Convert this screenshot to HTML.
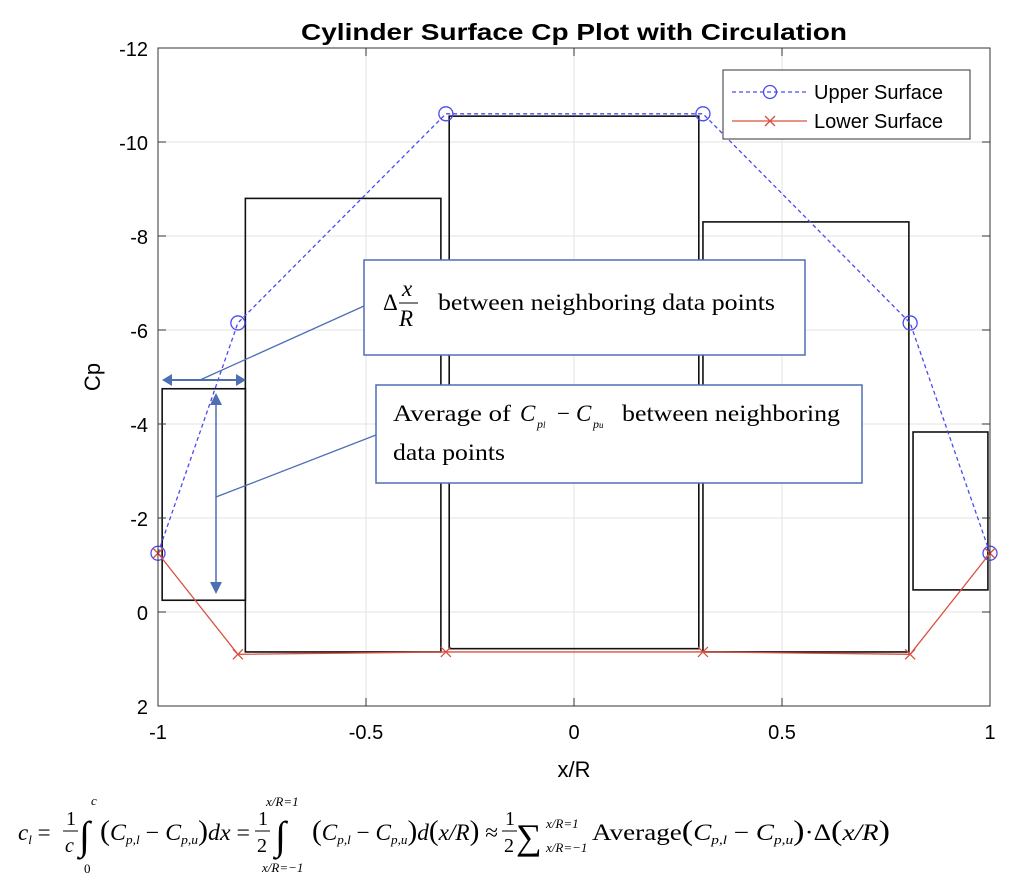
<!DOCTYPE html>
<html><head><meta charset="utf-8"><style>
body{margin:0;background:#fff;width:1024px;height:881px;overflow:hidden}
svg{display:block}
</style></head><body>
<svg id="chart" width="1024" height="881" xmlns="http://www.w3.org/2000/svg" font-family="Liberation Sans, sans-serif">
<g id="grid"></g>
<g id="rects"></g>
<g id="series"></g>
<g id="axes"></g>
<text x="574" y="40" text-anchor="middle" font-size="23" font-weight="bold" textLength="546" lengthAdjust="spacingAndGlyphs">Cylinder Surface Cp Plot with Circulation</text>
<text x="574" y="777" text-anchor="middle" font-size="22">x/R</text>
<text transform="translate(100,377) rotate(-90)" text-anchor="middle" font-size="22">Cp</text>
<g>
<rect x="723" y="70" width="247" height="69" fill="#fff" stroke="#333" stroke-width="1"/>
<line x1="732" y1="92" x2="807" y2="92" stroke="#4a4af0" stroke-width="1.3" stroke-dasharray="4,3"/>
<circle cx="770" cy="92" r="6.5" fill="none" stroke="#4a4af0" stroke-width="1.3"/>
<text x="814" y="99" font-size="20">Upper Surface</text>
<line x1="732" y1="121" x2="807" y2="121" stroke="#d95040" stroke-width="1.3"/>
<path d="M765 116 L775 126 M775 116 L765 126" stroke="#d95040" stroke-width="1.3"/>
<text x="814" y="128" font-size="20">Lower Surface</text>
</g>
<g font-family="Liberation Serif, serif" stroke-width="1.3">
<line x1="364" y1="306" x2="200" y2="380" stroke="#4f6fb5"/>
<line x1="376" y1="435" x2="216" y2="497" stroke="#4f6fb5"/>
<line x1="170" y1="380" x2="238" y2="380" stroke="#4f6fb5" stroke-width="2"/>
<path d="M162 380 L172 374 L172 386Z M246 380 L236 374 L236 386Z" fill="#4f6fb5"/>
<line x1="216" y1="403" x2="216" y2="583" stroke="#4f6fb5" stroke-width="1.5"/>
<path d="M216 393 L210 405 L222 405Z M216 594 L210 582 L222 582Z" fill="#4f6fb5"/>
<rect x="364" y="260" width="441" height="95" fill="#fff" stroke="#4f6fb5" stroke-width="1.5"/>
<text x="383" y="310" font-size="23" stroke="none">Δ</text>
<text x="402" y="296" font-size="23" font-style="italic" stroke="none">x</text>
<line x1="399" y1="303" x2="418" y2="303" stroke="#000" stroke-width="1"/>
<text x="399" y="326" font-size="23" font-style="italic" stroke="none">R</text>
<text x="438" y="310" font-size="23" stroke="none" textLength="337" lengthAdjust="spacingAndGlyphs">between neighboring data points</text>
<rect x="376" y="385" width="486" height="98" fill="#fff" stroke="#4f6fb5" stroke-width="1.5"/>
<text x="393" y="421" font-size="23" stroke="none" textLength="118" lengthAdjust="spacingAndGlyphs">Average of</text>
<text x="520" y="421" font-size="23" stroke="none" font-style="italic">C</text><text x="537" y="428" font-size="12" font-style="italic">p<tspan font-size="9">l</tspan></text>
<text x="557" y="421" font-size="23" stroke="none">−</text>
<text x="576" y="421" font-size="23" stroke="none" font-style="italic">C</text><text x="593" y="428" font-size="12" font-style="italic">p<tspan font-size="9">u</tspan></text>
<text x="622" y="421" font-size="23" stroke="none" textLength="218" lengthAdjust="spacingAndGlyphs">between neighboring</text>
<text x="393" y="460" font-size="23" stroke="none" textLength="112" lengthAdjust="spacingAndGlyphs">data points</text>
</g>
<g font-family="Liberation Serif, serif" font-size="23">
<text x="18" y="840"><tspan font-style="italic">c<tspan font-size="13" dy="4">l</tspan></tspan><tspan dy="-4"> =</tspan></text>
<text x="66" y="825" font-size="20">1</text><line x1="63" y1="831" x2="78" y2="831" stroke="#000"/><text x="65" y="852" font-size="20" font-style="italic">c</text>
<text x="79" y="849" font-size="40">∫</text><text x="91" y="805" font-size="13" font-style="italic">c</text><text x="84" y="873" font-size="13">0</text>
<text x="100" y="840" textLength="150" lengthAdjust="spacingAndGlyphs"><tspan font-size="29">(</tspan><tspan font-style="italic">C<tspan font-size="13" dy="4">p,l</tspan></tspan><tspan dy="-4"> − </tspan><tspan font-style="italic">C<tspan font-size="13" dy="4">p,u</tspan></tspan><tspan dy="-4" font-size="29">)</tspan><tspan font-style="italic">dx</tspan> =</text>
<text x="258" y="825" font-size="20">1</text><line x1="255" y1="831" x2="270" y2="831" stroke="#000"/><text x="257" y="852" font-size="20">2</text>
<text x="275" y="849" font-size="40">∫</text><text x="266" y="806" font-size="13" font-style="italic">x/R=1</text><text x="262" y="872" font-size="13" font-style="italic">x/R=−1</text>
<text x="312" y="840" textLength="186" lengthAdjust="spacingAndGlyphs"><tspan font-size="29">(</tspan><tspan font-style="italic">C<tspan font-size="13" dy="4">p,l</tspan></tspan><tspan dy="-4"> − </tspan><tspan font-style="italic">C<tspan font-size="13" dy="4">p,u</tspan></tspan><tspan dy="-4" font-size="29">)</tspan><tspan font-style="italic">d</tspan><tspan font-size="29">(</tspan><tspan font-style="italic">x/R</tspan><tspan font-size="29">)</tspan> ≈</text>
<text x="505" y="825" font-size="20">1</text><line x1="502" y1="831" x2="517" y2="831" stroke="#000"/><text x="504" y="852" font-size="20">2</text>
<text x="516" y="849" font-size="36">∑</text><text x="546" y="828" font-size="13" font-style="italic">x/R=1</text><text x="546" y="852" font-size="13" font-style="italic">x/R=−1</text>
<text x="592" y="840" textLength="298" lengthAdjust="spacingAndGlyphs">Average<tspan font-size="29">(</tspan><tspan font-style="italic">C<tspan font-size="13" dy="4">p,l</tspan></tspan><tspan dy="-4"> − </tspan><tspan font-style="italic">C<tspan font-size="13" dy="4">p,u</tspan></tspan><tspan dy="-4" font-size="29">)</tspan>·Δ<tspan font-size="29">(</tspan><tspan font-style="italic">x/R</tspan><tspan font-size="29">)</tspan></text>
</g>
</svg>
<script>
const xTicks=[-1,-0.5,0,0.5,1];
const xTickLabels=["-1","-0.5","0","0.5","1"];
const yTicks=[-12,-10,-8,-6,-4,-2,0,2];
const yTickLabels=["-12","-10","-8","-6","-4","-2","0","2"];
const xData=[-1,-0.808,-0.308,0.31,0.808,1];
const upperCp=[-1.25,-6.15,-10.6,-10.6,-6.15,-1.25];
const lowerCp=[-1.25,0.9,0.85,0.85,0.9,-1.25];
const rectX0=[-0.99,-0.79,-0.30,0.31,0.815];
const rectX1=[-0.79,-0.32,0.30,0.805,0.995];
const rectTop=[-4.75,-8.8,-10.55,-8.3,-3.83];
const rectBot=[-0.25,0.85,0.78,0.85,-0.47];
const L=158,R=990,T=48,B=706;
const sx=v=>L+(v+1)/2*(R-L);
const sy=v=>T+(v+12)/14*(B-T);
const NS='http://www.w3.org/2000/svg';
function mk(tag,attrs,parent){const e=document.createElementNS(NS,tag);for(const k in attrs)e.setAttribute(k,attrs[k]);parent.appendChild(e);return e;}
const grid=document.getElementById('grid'),axes=document.getElementById('axes'),rects=document.getElementById('rects'),series=document.getElementById('series');
mk('rect',{x:L,y:T,width:R-L,height:B-T,fill:'#fff'},grid);
xTicks.forEach((v,i)=>{
 mk('line',{x1:sx(v),x2:sx(v),y1:T,y2:B,stroke:'#e3e3e3'},grid);
 mk('line',{x1:sx(v),x2:sx(v),y1:B,y2:B-8,stroke:'#333'},axes);
 mk('line',{x1:sx(v),x2:sx(v),y1:T,y2:T+8,stroke:'#333'},axes);
 const t=mk('text',{x:sx(v),y:B+33,'text-anchor':'middle','font-size':20},axes);t.textContent=xTickLabels[i];
 
 
});
yTicks.forEach((v,i)=>{
 mk('line',{x1:L,x2:R,y1:sy(v),y2:sy(v),stroke:'#e3e3e3'},grid);
 mk('line',{x1:L,x2:L+8,y1:sy(v),y2:sy(v),stroke:'#333'},axes);
 mk('line',{x1:R,x2:R-8,y1:sy(v),y2:sy(v),stroke:'#333'},axes);
 const t=mk('text',{x:L-10,y:sy(v)+8,'text-anchor':'end','font-size':20},axes);t.textContent=yTickLabels[i];
 
 
});
mk('rect',{x:L,y:T,width:R-L,height:B-T,fill:'none',stroke:'#333','stroke-width':1},axes);
rectX0.forEach((x0,i)=>{
 const r=mk('rect',{x:sx(x0),y:sy(rectTop[i]),width:sx(rectX1[i])-sx(x0),height:sy(rectBot[i])-sy(rectTop[i]),fill:'none',stroke:'#111','stroke-width':1.6},rects);
 
 
});
const up=mk('polyline',{points:xData.map((x,i)=>sx(x)+','+sy(upperCp[i])).join(' '),fill:'none',stroke:'#4a4af0','stroke-width':1.3,'stroke-dasharray':'4,3'},series);


const lo=mk('polyline',{points:xData.map((x,i)=>sx(x)+','+sy(lowerCp[i])).join(' '),fill:'none',stroke:'#d95040','stroke-width':1.3},series);


xData.forEach((x,i)=>{
 const c=mk('circle',{cx:sx(x),cy:sy(upperCp[i]),r:7,fill:'none',stroke:'#4a4af0','stroke-width':1.3},series);
 
 
 const X=sx(x),Y=sy(lowerCp[i]);
 const m=mk('path',{d:`M${X-5} ${Y-5}L${X+5} ${Y+5}M${X+5} ${Y-5}L${X-5} ${Y+5}`,stroke:'#d95040','stroke-width':1.3},series);
 
 
});
</script>
</body></html>
